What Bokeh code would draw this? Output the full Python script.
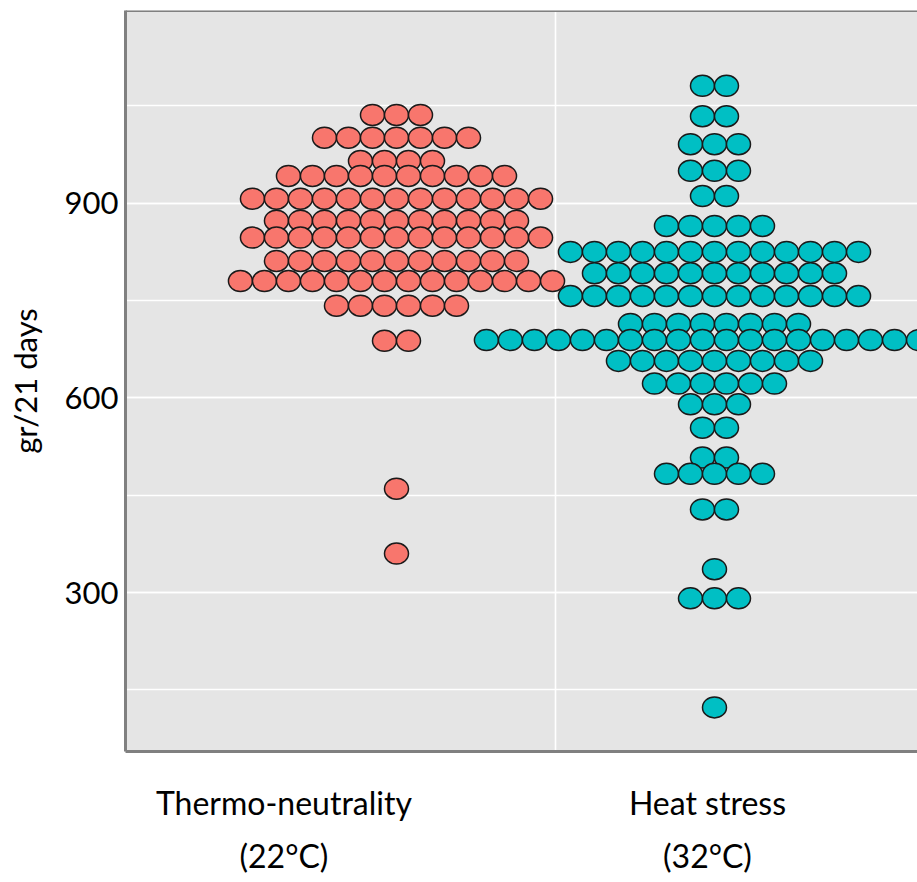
import numpy as np
from bokeh.plotting import figure
from bokeh.models import ColumnDataSource, Range1d, FixedTicker, SingleIntervalTicker, Span
from bokeh.embed import file_html
from bokeh.resources import INLINE

# Group labels shown under the x axis
group_labels = ["Thermo-neutrality\n(22°C)", "Heat stress\n(32°C)"]

# Dot-plot bins: bin centre (gr/21 days) and number of animals stacked in that bin
tn_values = [1036, 1001, 965, 942, 907, 873, 847, 811, 780, 742, 688, 460, 360]
tn_counts = [3, 7, 4, 10, 13, 11, 13, 11, 14, 6, 2, 1, 1]

hs_values = [1081, 1034, 991, 950, 911, 865, 825, 792, 757, 714, 689, 657,
             622, 590, 554, 508, 483, 428, 336, 291, 123]
hs_counts = [2, 2, 3, 3, 2, 5, 13, 11, 13, 8, 20, 9, 6, 3, 2, 2, 5, 2, 1, 3, 1]

y_ticks = [300, 600, 900]

# layout constants
GROUP_POS = [1.0, 2.0]          # dot columns on the x scale
LABEL_POS = [0.646, 1.978]      # where the group names sit on the x scale
DOT_PITCH = 0.0755              # horizontal step between stacked dots
RED = "#F8766D"
TEAL = "#00BFC4"
FRAME = "#808080"
FONT = "Lato"


def stack(values, counts, centre):
    xs, ys = [], []
    for v, n in zip(values, counts):
        for i in range(n):
            xs.append(centre + (i - (n - 1) / 2) * DOT_PITCH)
            ys.append(v)
    return xs, ys


p = figure(width=917, height=882,
           x_range=Range1d(0.1478, 2.6384), y_range=Range1d(55, 1197),
           output_backend="svg", toolbar_location=None,
           min_border_left=125, min_border_right=0,
           min_border_top=10, min_border_bottom=131)

p.background_fill_color = "#E5E5E5"
p.border_fill_color = "white"
p.outline_line_color = None

# grid: white major + minor lines horizontally, one vertical divider
p.ygrid.ticker = SingleIntervalTicker(interval=300, num_minor_ticks=2)
p.ygrid.grid_line_color = "white"
p.ygrid.grid_line_width = 1.6
p.ygrid.minor_grid_line_color = "white"
p.ygrid.minor_grid_line_width = 1.6
p.xgrid.ticker = FixedTicker(ticks=[1.5])
p.xgrid.grid_line_color = "white"
p.xgrid.grid_line_width = 1.6

for (vals, cnts, centre, colour) in [(tn_values, tn_counts, GROUP_POS[0], RED),
                                     (hs_values, hs_counts, GROUP_POS[1], TEAL)]:
    xs, ys = stack(vals, cnts, centre)
    src = ColumnDataSource(dict(x=xs, y=ys))
    p.ellipse("x", "y", width=24, height=21, width_units="screen",
              height_units="screen", source=src, fill_color=colour,
              line_color="#1a1a1a", line_width=1.5)

# y axis
yax = p.yaxis[0]
yax.ticker = FixedTicker(ticks=y_ticks)
yax.axis_line_color = FRAME
yax.axis_line_width = 3
yax.major_tick_line_color = None
yax.minor_tick_line_color = None
yax.major_tick_out = 0
yax.major_label_standoff = 7
yax.major_label_text_font = FONT
yax.major_label_text_font_size = "31px"
yax.major_label_text_color = "black"
yax.axis_label = "gr/21 days"
yax.axis_label_text_font = FONT
yax.axis_label_text_font_size = "31px"
yax.axis_label_text_font_style = "normal"
yax.axis_label_text_color = "black"
yax.axis_label_standoff = 18

# x axis carries the group names
xax = p.xaxis[0]
xax.ticker = FixedTicker(ticks=LABEL_POS)
xax.major_label_overrides = {LABEL_POS[0]: group_labels[0], LABEL_POS[1]: group_labels[1]}
xax.axis_line_color = FRAME
xax.axis_line_width = 3
xax.major_tick_line_color = None
xax.minor_tick_line_color = None
xax.major_tick_out = 0
xax.major_label_standoff = 31
xax.major_label_text_font = FONT
xax.major_label_text_font_size = "32px"
xax.major_label_text_color = "black"
xax.major_label_text_line_height = 1.38

# top edge of the panel
p.add_layout(Span(location=1197, dimension="width", line_color=FRAME, line_width=3))

open("out.html", "w").write(file_html(p, INLINE))
